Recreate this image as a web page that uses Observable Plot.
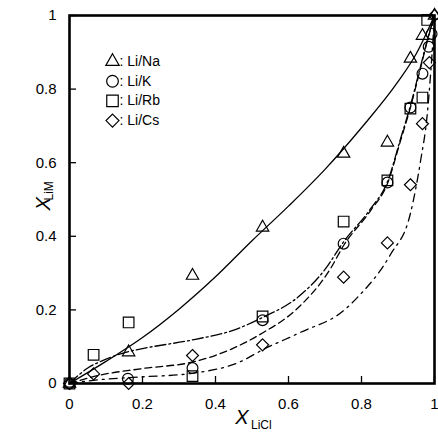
<!DOCTYPE html>
<html>
<head>
<meta charset="utf-8">
<script src="https://cdn.jsdelivr.net/npm/d3@7"></script>
<script src="https://cdn.jsdelivr.net/npm/@observablehq/plot@0.6"></script>
<style>
  html, body { margin: 0; padding: 0; background: #fff; }
</style>
</head>
<body>
<div id="chart"></div>
<script>
// ---- tick labels ----
const xTicks = [0, 0.2, 0.4, 0.6, 0.8, 1];
const xTickLabels = ["0", "0.2", "0.4", "0.6", "0.8", "1"];
const yTicks = [0, 0.2, 0.4, 0.6, 0.8, 1];
const yTickLabels = ["0", "0.2", "0.4", "0.6", "0.8", "1"];

// ---- series names ----
const seriesNames = ["Li/Na", "Li/K", "Li/Rb", "Li/Cs"];
const seriesSymbols = ["triangle", "circle", "square", "diamond2"];

// ---- measured points (X_LiCl, X_LiM) ----
const naX = [0, 0.162, 0.337, 0.529, 0.751, 0.871, 0.934, 0.967, 1.0];
const naY = [0, 0.085, 0.293, 0.424, 0.625, 0.655, 0.883, 0.945, 1.0];

const kX = [0, 0.160, 0.337, 0.529, 0.751, 0.871, 0.934, 0.967, 0.984, 0.992];
const kY = [0, 0.013, 0.042, 0.172, 0.380, 0.546, 0.750, 0.842, 0.915, 0.950];

const rbX = [0, 0.066, 0.162, 0.337, 0.529, 0.751, 0.871, 0.934, 0.967, 0.980];
const rbY = [0, 0.078, 0.166, 0.020, 0.182, 0.440, 0.552, 0.747, 0.777, 0.988];

const csX = [0, 0.066, 0.162, 0.337, 0.529, 0.751, 0.871, 0.934, 0.967, 0.986, 1.0];
const csY = [0, 0.026, 0.000, 0.076, 0.105, 0.289, 0.382, 0.540, 0.706, 0.872, 1.0];

// ---- model curves ----
const naFitX = [0, 0.1, 0.2, 0.3, 0.4, 0.5, 0.6, 0.7, 0.8, 0.9, 0.95, 1.0];
const naFitY = [0, 0.060, 0.125, 0.202, 0.290, 0.388, 0.482, 0.582, 0.695, 0.820, 0.896, 1.0];

const kFitX = [0, 0.08, 0.195, 0.345, 0.44, 0.53, 0.62, 0.715, 0.751, 0.825, 0.871, 0.907, 0.934, 0.96, 0.98, 1.0];
const kFitY = [0, 0.022, 0.040, 0.060, 0.092, 0.138, 0.200, 0.312, 0.375, 0.470, 0.543, 0.660, 0.750, 0.850, 0.930, 1.0];

const rbFitX = [0, 0.05, 0.1, 0.162, 0.2, 0.345, 0.45, 0.53, 0.62, 0.7, 0.751, 0.825, 0.871, 0.907, 0.934, 0.96, 0.98, 1.0];
const rbFitY = [0, 0.042, 0.066, 0.087, 0.095, 0.120, 0.145, 0.180, 0.230, 0.310, 0.385, 0.475, 0.548, 0.665, 0.755, 0.855, 0.932, 1.0];

const csFitX = [0, 0.08, 0.2, 0.33, 0.47, 0.53, 0.633, 0.751, 0.789, 0.879, 0.934, 0.962, 0.98, 0.99, 1.0];
const csFitY = [0, 0.010, 0.018, 0.027, 0.060, 0.092, 0.139, 0.198, 0.234, 0.350, 0.462, 0.606, 0.730, 0.850, 1.0];

// ---- layout ----
const W = 438, H = 438;
const mL = 69, mR = 4, mT = 15, mB = 55;
const frameW = W - mL - mR, frameH = H - mT - mB;
const tickLen = 7;

// ---- build tables ----
const toRows = (xs, ys) => xs.map((x, i) => ({x, y: ys[i]}));
const pts = [toRows(naX, naY), toRows(kX, kY), toRows(rbX, rbY), toRows(csX, csY)];
const fits = [toRows(naFitX, naFitY), toRows(kFitX, kFitY), toRows(rbFitX, rbFitY), toRows(csFitX, csFitY)];
const dashes = [null, "7,4", "11,3,2,3", "8,5,2,5"];
const radii = {triangle: 4.6, circle: 5.4, square: 6.0, diamond2: 5.4};

const marks = [];
// curves
fits.forEach((rows, i) => {
  marks.push(Plot.line(rows, {x: "x", y: "y", curve: "monotone-x", stroke: "black",
    strokeWidth: 1.3, strokeDasharray: dashes[i]}));
});
// points
pts.forEach((rows, i) => {
  marks.push(Plot.dot(rows, {x: "x", y: "y", symbol: () => seriesSymbols[i], r: radii[seriesSymbols[i]],
    stroke: "black", strokeWidth: 1.2, fill: "none"}));
});
// legend
seriesNames.forEach((name, i) => {
  marks.push(Plot.dot([name], {frameAnchor: "top-left", dx: 43, dy: 46 + i * 19.7,
    symbol: () => seriesSymbols[i], r: radii[seriesSymbols[i]] * 1.08, stroke: "black", strokeWidth: 1.2, fill: "none"}));
  marks.push(Plot.text([": " + name], {frameAnchor: "top-left", dx: 50, dy: 46 + i * 19.7,
    text: d => d, textAnchor: "start", lineAnchor: "middle", fontSize: 14, fill: "black"}));
});
// inward ticks
marks.push(Plot.tickX(xTicks, {x: d => d, insetTop: frameH - tickLen, stroke: "black", strokeWidth: 1.3}));
marks.push(Plot.tickY(yTicks, {y: d => d, insetRight: frameW - tickLen, stroke: "black", strokeWidth: 1.3}));
// tick labels
marks.push(Plot.axisX(xTicks, {tickSize: 0, tickPadding: 15, tickFormat: (d, i) => xTickLabels[i], fontSize: 15, label: null}));
marks.push(Plot.axisY(yTicks, {tickSize: 0, tickPadding: 13, tickFormat: (d, i) => yTickLabels[i], fontSize: 15, label: null}));
// frame
marks.push(Plot.frame({stroke: "black", strokeWidth: 2.6}));
// axis titles
marks.push(Plot.text(["X"], {frameAnchor: "bottom", dx: -10, dy: 40, text: d => d, fontSize: 20, fontStyle: "italic", fill: "black"}));
marks.push(Plot.text(["LiCl"], {frameAnchor: "bottom", dx: -1, dy: 45, text: d => d, fontSize: 12, textAnchor: "start", fill: "black"}));
marks.push(Plot.text(["X"], {frameAnchor: "left", dx: -26, dy: 11, rotate: -90, text: d => d, fontSize: 20, fontStyle: "italic", fill: "black"}));
marks.push(Plot.text(["LiM"], {frameAnchor: "left", dx: -20, dy: 1, rotate: -90, text: d => d, fontSize: 12, textAnchor: "start", fill: "black"}));

const chart = Plot.plot({
  width: W,
  height: H,
  marginLeft: mL,
  marginRight: mR,
  marginTop: mT,
  marginBottom: mB,
  x: {domain: [0, 1]},
  y: {domain: [0, 1]},
  style: {fontFamily: "'Liberation Sans', Arial, sans-serif", fontSize: "15px", background: "white", color: "black"},
  marks
});
document.getElementById("chart").appendChild(chart);
</script>
</body>
</html>
